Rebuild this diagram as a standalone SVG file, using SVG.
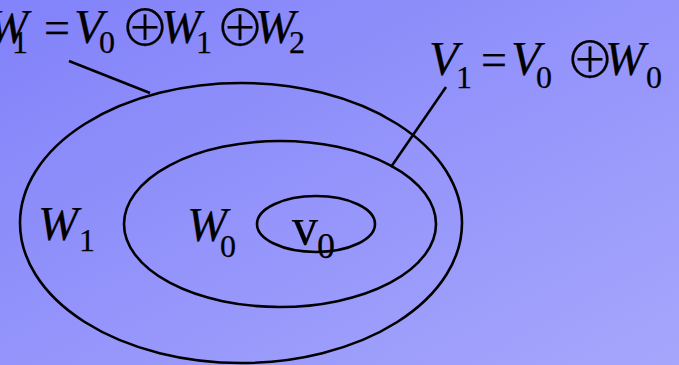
<svg xmlns="http://www.w3.org/2000/svg" width="679" height="365" viewBox="0 0 679 365">
<defs>
<linearGradient id="bg" x1="0" y1="0" x2="1" y2="1">
<stop offset="0" stop-color="#8282fa"/>
<stop offset="1" stop-color="#a6a6fc"/>
</linearGradient>
</defs>
<style>
.e{fill:none;stroke:#000;stroke-width:2.6}
.l{stroke:#000;stroke-width:2.6;fill:none}
text{stroke:#000;stroke-width:0.25;fill:#000}
.m{font-family:"Liberation Serif",serif;font-size:48px;font-style:italic}
.s{font-family:"Liberation Serif",serif;font-size:32px}
.q{font-family:"Liberation Serif",serif;font-size:46px}
.o{font-family:"Noto Sans CJK JP","DejaVu Sans",sans-serif;font-size:50px;font-weight:300}
</style>
<rect width="679" height="365" fill="url(#bg)"/>
<g id="outer">
<ellipse class="e" cx="241" cy="223" rx="221" ry="140"/>
<text class="m" x="38" y="240">W</text><text class="s" x="79" y="251">1</text>
</g>
<g id="middle">
<ellipse class="e" cx="280" cy="224" rx="156" ry="83"/>
<text class="m" x="187" y="241">W</text><text class="s" x="220" y="257">0</text>
</g>
<g id="inner">
<ellipse class="e" cx="316" cy="224" rx="59" ry="28"/>
<text class="s" style="font-size:52px" x="292" y="244">v</text><text class="s" style="font-size:36px" x="317" y="258">0</text>
</g>
<g id="label-top">
<text class="m" x="-12" y="43">W</text><text class="s" x="12" y="53">1</text>
<text class="q" x="44" y="43">=</text>
<text class="m" x="74" y="43">V</text><text class="s" x="99" y="53">0</text>
<text class="o" x="120" y="46">⊕</text>
<text class="m" x="161" y="43">W</text><text class="s" x="196" y="53">1</text>
<text class="o" x="215" y="46">⊕</text>
<text class="m" x="255" y="43">W</text><text class="s" x="289" y="53">2</text>
</g>
<g id="label-right">
<text class="m" x="429" y="75">V</text><text class="s" x="456" y="88">1</text>
<text class="q" x="481" y="75">=</text>
<text class="m" x="511" y="75">V</text><text class="s" x="536" y="88">0</text>
<text class="o" x="565" y="78">⊕</text>
<text class="m" x="605" y="75">W</text><text class="s" x="646" y="88">0</text>
</g>
<g id="connectors">
<line class="l" x1="69" y1="61" x2="150" y2="93"/>
<line class="l" x1="446" y1="87" x2="391" y2="167"/>
</g>
</svg>
